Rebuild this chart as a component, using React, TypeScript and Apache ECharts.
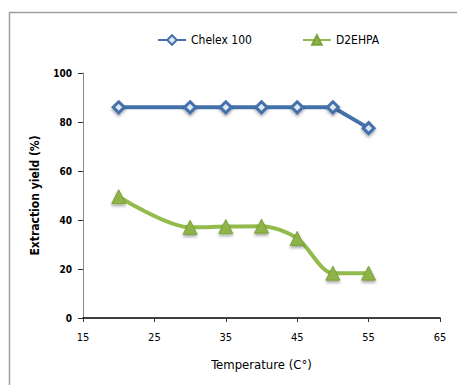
import React, { useEffect, useRef } from "react";
import * as echarts from "echarts";

const temperatures = [20, 30, 35, 40, 45, 50, 55];
const chelexValues = [86, 86, 86, 86, 86, 86, 77.5];
const d2ehpaValues = [49.5, 37, 37.3, 37.5, 32.5, 18.3, 18.3];
const xTicks = [15, 25, 35, 45, 55, 65];
const yTicks = [0, 20, 40, 60, 80, 100];

const FONT = "'DejaVu Sans Condensed', 'Liberation Sans', Arial, sans-serif";

export default function App() {
  const ref = useRef<HTMLDivElement>(null);
  useEffect(() => {
    if (!ref.current) return;
    const chart = echarts.init(ref.current, undefined, { renderer: "svg" });
    const pair = (vals: number[]) => temperatures.map((t, i) => [t, vals[i]]);
    chart.setOption({
      animation: false,
      backgroundColor: "#ffffff",
      graphic: [
        {
          type: "rect",
          shape: { x: 9.5, y: 12.5, width: 460, height: 390 },
          style: { fill: "none", stroke: "#a0a0a0", lineWidth: 1.5 },
          silent: true,
        },
      ],
      legend: {
        top: 29,
        left: 152,
        itemGap: 50,
        itemWidth: 28,
        itemHeight: 12,
        textStyle: { fontFamily: FONT, fontSize: 12, color: "#000" },
        data: [{ name: "Chelex 100" }, { name: "D2EHPA" }],
      },
      grid: { left: 83, right: 17, top: 73, bottom: 67 },
      xAxis: {
        type: "value",
        min: 15,
        max: 65,
        interval: 10,
        name: "Temperature (C°)",
        nameLocation: "middle",
        nameGap: 40,
        nameTextStyle: { fontFamily: FONT, fontSize: 13, color: "#000" },
        axisLine: { lineStyle: { color: "#000", width: 1.5 } },
        axisTick: { show: true, length: 4, lineStyle: { color: "#333" } },
        axisLabel: {
          fontFamily: FONT,
          fontSize: 11,
          color: "#000",
          margin: 14,
          formatter: (v: number) => (xTicks.includes(v) ? String(v) : ""),
        },
        splitLine: { show: false },
      },
      yAxis: {
        type: "value",
        min: 0,
        max: 100,
        interval: 20,
        name: "Extraction yield (%)",
        nameLocation: "middle",
        nameGap: 42,
        nameTextStyle: { fontFamily: FONT, fontSize: 12, fontWeight: "bold", color: "#000" },
        axisLine: { show: true, lineStyle: { color: "#888", width: 1 } },
        axisTick: { show: true, length: 5, lineStyle: { color: "#333" } },
        axisLabel: {
          fontFamily: FONT,
          fontSize: 10,
          fontWeight: "bold",
          color: "#000",
          margin: 11,
          formatter: (v: number) => (yTicks.includes(v) ? String(v) : ""),
        },
        splitLine: { show: false },
      },
      series: [
        {
          name: "Chelex 100",
          type: "line",
          data: pair(chelexValues),
          symbol: "diamond",
          symbolSize: 11,
          lineStyle: { color: "#4471ab", width: 4 },
          itemStyle: {
            color: "#dfe8f3",
            borderColor: "#4471ab",
            borderWidth: 3,
            shadowColor: "rgba(0,0,0,0.35)",
            shadowBlur: 3,
            shadowOffsetY: 2,
          },
          z: 3,
        },
        {
          name: "D2EHPA",
          type: "line",
          data: pair(d2ehpaValues),
          smooth: 0.3,
          symbol: "triangle",
          symbolSize: 14,
          lineStyle: { color: "#93bb4c", width: 4 },
          itemStyle: {
            color: "#8db348",
            borderColor: "#7aa23a",
            borderWidth: 1,
            shadowColor: "rgba(0,0,0,0.35)",
            shadowBlur: 3,
            shadowOffsetY: 2,
          },
          z: 2,
        },
      ],
    });
    return () => chart.dispose();
  }, []);
  return <div ref={ref} style={{ width: 457, height: 385, position: "absolute", left: 0, top: 0 }} />;
}
